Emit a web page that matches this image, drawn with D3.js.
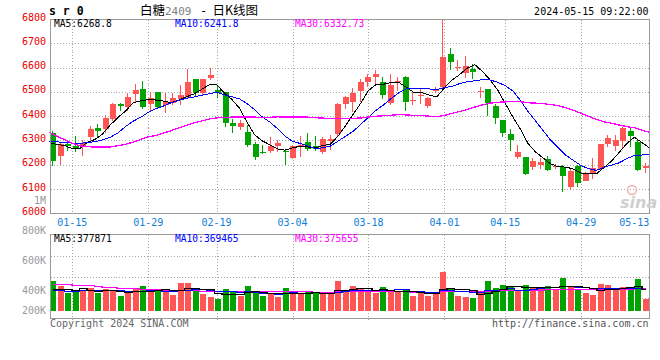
<!DOCTYPE html>
<html><head><meta charset="utf-8">
<script src="https://cdn.jsdelivr.net/npm/d3@7"></script>
<style>
body{margin:0;background:#fff;}
svg{display:block;}
text{font-family:"DejaVu Sans Mono","Liberation Mono",monospace;}
</style>
</head><body>
<svg id="chart" width="660" height="360"></svg>
<script>
// ---------------- DATA ----------------
const dates = ["01-10","01-11","01-12","01-15","01-16","01-17","01-18","01-19","01-22","01-23",
"01-24","01-25","01-26","01-29","01-30","01-31","02-01","02-02","02-05","02-06",
"02-07","02-08","02-19","02-20","02-21","02-22","02-23","02-26","02-27","02-28",
"02-29","03-01","03-04","03-05","03-06","03-07","03-08","03-11","03-12","03-13",
"03-14","03-15","03-18","03-19","03-20","03-21","03-22","03-25","03-26","03-27",
"03-28","03-29","04-01","04-02","04-03","04-08","04-09","04-10","04-11","04-12",
"04-15","04-16","04-17","04-18","04-19","04-22","04-23","04-24","04-25","04-26",
"04-29","04-30","05-06","05-07","05-08","05-09","05-10","05-13","05-14","05-15"];

const opens  = [6329,6234,6284,6279,6272,6315,6351,6346,6387,6449,6437,6491,6510,6452,6499,6446,6453,6471,6480,6551,
6496,6558,6507,6498,6370,6356,6335,6285,6253,6258,6277,6258,6228,6272,6293,6278,6252,6298,6325,6450,
6457,6503,6539,6562,6539,6453,6540,6561,6463,6481,6443,6503,6521,6655,6599,6576,6594,6500,6511,6442,
6384,6326,6230,6233,6192,6200,6223,6189,6189,6109,6195,6134,6160,6181,6285,6277,6299,6340,6295,6185];
const highs  = [6340,6288,6301,6320,6302,6359,6367,6404,6455,6455,6496,6531,6545,6500,6500,6497,6496,6528,6593,6551,
6551,6600,6530,6500,6390,6384,6363,6292,6281,6314,6302,6260,6280,6319,6329,6317,6315,6322,6456,6485,
6515,6553,6573,6590,6561,6573,6562,6566,6500,6511,6480,6521,6798,6679,6631,6647,6613,6521,6511,6451,
6386,6346,6281,6233,6226,6229,6236,6203,6199,6185,6199,6171,6229,6285,6322,6322,6354,6350,6305,6208];
const lows   = [6195,6199,6258,6253,6240,6302,6315,6334,6382,6422,6422,6458,6433,6425,6431,6414,6450,6450,6476,6484,
6490,6549,6478,6358,6332,6343,6277,6223,6245,6250,6253,6199,6224,6233,6258,6260,6247,6263,6315,6430,
6418,6459,6523,6535,6473,6449,6507,6425,6446,6453,6435,6498,6511,6593,6590,6558,6553,6476,6404,6369,
6315,6260,6226,6158,6182,6185,6175,6185,6089,6096,6112,6134,6144,6175,6274,6260,6267,6274,6175,6167];
const closes = [6217,6284,6277,6267,6290,6347,6340,6391,6450,6443,6480,6507,6436,6473,6436,6459,6474,6487,6541,6494,
6551,6569,6496,6370,6359,6373,6281,6233,6247,6278,6288,6254,6279,6283,6263,6264,6307,6306,6452,6479,
6496,6540,6561,6574,6487,6528,6544,6459,6467,6487,6474,6511,6644,6624,6603,6606,6583,6505,6453,6393,
6332,6301,6253,6160,6215,6210,6178,6195,6153,6175,6126,6167,6188,6285,6309,6302,6350,6319,6178,6196];
const volumes = [507000,421000,302000,341000,341000,387000,307000,370000,341000,251000,
307000,370000,421000,370000,329000,341000,268000,478000,478000,353000,
285000,234000,200000,370000,336000,251000,421000,307000,256000,302000,
234000,387000,302000,285000,336000,295000,302000,300000,507000,336000,
421000,363000,336000,307000,410000,324000,324000,353000,256000,336000,
256000,295000,666000,370000,256000,239000,222000,324000,507000,392000,
439000,421000,353000,439000,410000,363000,421000,353000,563000,421000,
353000,307000,268000,456000,439000,353000,410000,381000,541000,200000];

// moving-average values before enough bars exist on the chart
const ma5Lead  = [6290,6283,6279,6266];
const ma10Lead = [6296,6294,6292,6289,6288,6291,6295,6302,6313];
const ma30Lead = [6333,6317,6303,6288,6278,6274,6273,6273,6273,6278,6284,6293,6304,6315,6320,
                  6330,6340,6352,6362,6372,6380,6388,6393,6395,6396,6397,6397,6396,6395];
const vma5Lead  = [368000,366000,363000,360000];
const vma10Lead = [345000,345000,344000,344000,345000,347000,349000,352000,355000];
const vma30Lead = [456000,452000,449000,444000,435000,432000,421000,410000,401000,392000,387000,381000,
                   375000,370000,364000,358000,353000,350000,346000,345000,341000,340000,339000,338000,
                   337000,336000,336000,335000,334000];

const priceTicks = [6000,6100,6200,6300,6400,6500,6600,6700,6800];
const volTickValues = [1000000,800000,600000,400000,200000];
const volTickLabels = ["1M","800K","600K","400K","200K"];
const axisDates = ["01-15","01-29","02-19","03-04","03-18","04-01","04-15","04-29","05-13"];
const priceLegend = ["MA5:6268.8","MA10:6241.8","MA30:6332.73"];
const volLegend = ["MA5:377871","MA10:369465","MA30:375655"];
const titleParts = ["白糖","2409","-","日K线图"];
const stamp = "2024-05-15 09:22:00";

// ---------------- LAYOUT ----------------
const svg = d3.select("#chart");
const n = dates.length;
const L = 50.5, R = 649.5;
const pTop = 19.5, pBot = 213.5;
const vTop = 234.5, vBot = 318.5, vBase = 310.7;
const RED = "#ff5555", GREEN = "#00a300", GRID = "#a8a8a8", BORDER = "#9a9a9a";
const LINE_COLORS = ["#000000","#0000ff","#ff00ff"];

const xBand = d3.scaleBand().domain(d3.range(n)).range([49, 649]);
const xGrid = d3.scaleLinear().domain([0, n-1]).range([49.5, 649.5]);
const yP = d3.scaleLinear().domain([6000, 6800]).range([213.3, 19]);
const yV = d3.scaleLinear().domain([0, 1300000]).range([vBase, 234.5]);
const yVLabel = d3.scaleLinear().domain([0, 1000000]).range([350.5, 200.5]);

function movAvg(arr, k, lead) {
  return arr.map((v, i) => i < k - 1 ? lead[i] : d3.mean(arr.slice(i - k + 1, i + 1)));
}
const ma5 = movAvg(closes, 5, ma5Lead), ma10 = movAvg(closes, 10, ma10Lead), ma30 = movAvg(closes, 30, ma30Lead);
const vma5 = movAvg(volumes, 5, vma5Lead), vma10 = movAvg(volumes, 10, vma10Lead), vma30 = movAvg(volumes, 30, vma30Lead);

const gridIdx = axisDates.map(d => dates.indexOf(d));

// ---------------- GRID ----------------
const g = svg.append("g").attr("shape-rendering", "crispEdges");
g.selectAll(".hp").data(priceTicks.filter(t => t > 6000 && t < 6800)).enter().append("line")
  .attr("x1", L).attr("x2", R).attr("y1", d => Math.round(yP(d)) + 0.5).attr("y2", d => Math.round(yP(d)) + 0.5)
  .attr("stroke", GRID).attr("stroke-dasharray", "1,2");
const vGridY = d3.range(1, 4).map(k => vTop + (vBot - vTop) * k / 4);
g.selectAll(".hv").data(vGridY).enter().append("line")
  .attr("x1", L).attr("x2", R).attr("y1", d => Math.round(d) + 0.5).attr("y2", d => Math.round(d) + 0.5)
  .attr("stroke", GRID).attr("stroke-dasharray", "1,2");
gridIdx.slice(0, -1).forEach(i => {
  const x = Math.round(xGrid(i)) + 0.5;
  g.append("line").attr("x1", x).attr("x2", x).attr("y1", pTop).attr("y2", pBot)
    .attr("stroke", GRID).attr("stroke-dasharray", "1,2");
  g.append("line").attr("x1", x).attr("x2", x).attr("y1", vTop).attr("y2", vBot + 2)
    .attr("stroke", GRID).attr("stroke-dasharray", "1,2");
});

// ---------------- VOLUME BARS ----------------
const vb = svg.append("g").attr("shape-rendering", "crispEdges");
vb.selectAll("rect").data(volumes).enter().append("rect")
  .attr("x", (d, i) => Math.round(xBand(i)) + 1)
  .attr("width", 6)
  .attr("y", d => Math.round(yV(d)))
  .attr("height", d => Math.round(vBase) - Math.round(yV(d)))
  .attr("fill", (d, i) => closes[i] >= opens[i] ? RED : GREEN);

// ---------------- CANDLES ----------------
const cg = svg.append("g").attr("shape-rendering", "crispEdges");
d3.range(n).forEach(i => {
  const up = closes[i] >= opens[i];
  const col = up ? RED : GREEN;
  const x0 = Math.round(xBand(i)) + 1;
  const top = Math.round(yP(Math.max(opens[i], closes[i])));
  const bot = Math.round(yP(Math.min(opens[i], closes[i])));
  cg.append("line").attr("x1", x0 + 2.5).attr("x2", x0 + 2.5)
    .attr("y1", Math.max(yP(highs[i]), 19.5)).attr("y2", yP(lows[i]) + 0.5)
    .attr("stroke", col).attr("stroke-width", 1);
  cg.append("rect").attr("x", x0).attr("width", 6).attr("y", top)
    .attr("height", Math.max(1, bot - top)).attr("fill", col);
});

// ---------------- PRICE MA LINES ----------------
const pLine = d3.line().x((d, i) => xGrid(i)).y(d => yP(d));
[ma5, ma10, ma30].forEach((s, k) => {
  svg.append("path").attr("d", pLine(s)).attr("fill", "none")
    .attr("stroke", LINE_COLORS[k]).attr("stroke-width", k === 2 ? 1.3 : 1)
    .attr("shape-rendering", "crispEdges");
});

// ---------------- VOLUME MA LINES ----------------
const vLine = d3.line().curve(d3.curveStep).x((d, i) => Math.round(xBand(i)) + 4).y(d => Math.round(yV(d)) + 0.5);
[vma30, vma10, vma5].forEach((s, k) => {
  svg.append("path").attr("d", vLine(s)).attr("fill", "none")
    .attr("stroke", LINE_COLORS[2 - k]).attr("stroke-width", 1.3)
    .attr("shape-rendering", "crispEdges");
});

// ---------------- BORDERS ----------------
const bg = svg.append("g").attr("shape-rendering", "crispEdges").attr("fill", "none").attr("stroke", BORDER);
bg.append("rect").attr("x", L).attr("y", pTop).attr("width", R - L).attr("height", pBot - pTop);
bg.append("rect").attr("x", L).attr("y", vTop).attr("width", R - L).attr("height", vBot - vTop);

// ---------------- WATERMARK ----------------
svg.append("circle").attr("cx", 632).attr("cy", 190).attr("r", 4.5)
  .attr("fill", "none").attr("stroke", "#f3b0b0").attr("stroke-width", 1.5);
svg.append("text").attr("x", 620).attr("y", 208).text("sina")
  .style("font-family", "DejaVu Sans").style("font-style", "italic").style("font-weight", "bold")
  .style("font-size", "16px").attr("fill", "#cfcfcf");

// ---------------- AXIS LABELS ----------------
svg.selectAll(".pl").data(priceTicks).enter().append("text")
  .attr("x", 46).attr("y", d => yP(d) + 1.5).attr("text-anchor", "end")
  .style("font-size", "10px").attr("fill", "#e80000").text(d => d);
svg.selectAll(".vl").data(volTickValues).enter().append("text")
  .attr("x", 46).attr("y", d => Math.min(yVLabel(d), 310.5) + 3.5).attr("text-anchor", "end")
  .style("font-size", "10px").attr("fill", "#999").text((d, i) => volTickLabels[i]);
svg.selectAll(".xl").data(gridIdx).enter().append("text")
  .attr("x", d => xGrid(d)).attr("y", 225.5).attr("text-anchor", "middle")
  .style("font-size", "10px").attr("fill", "#1080d8").text((d, i) => axisDates[i]);

// ---------------- LEGENDS ----------------
const legX = [54, 175, 295];
priceLegend.forEach((t, k) => svg.append("text").attr("x", legX[k]).attr("y", 26.5)
  .style("font-size", "9.6px").attr("fill", LINE_COLORS[k]).text(t));
volLegend.forEach((t, k) => svg.append("text").attr("x", legX[k]).attr("y", 241.5)
  .style("font-size", "9.6px").attr("fill", LINE_COLORS[k]).text(t));

// ---------------- HEADER ----------------
svg.append("text").attr("x", 49).attr("y", 15).text("s r 0")
  .style("font-size", "11.5px").style("font-weight", "bold").style("white-space", "pre").attr("fill", "#000");
const titleX = [140, 165, 200, 212.5];
const titleFonts = ["'Noto Sans CJK SC'", "'DejaVu Sans Mono'", "'DejaVu Sans Mono'", "'Noto Sans CJK SC'"];
const titleSizes = ["12.5px", "11px", "12px", "12.5px"];
const titleFill = ["#000", "#808080", "#000", "#000"];
titleParts.forEach((t, k) => svg.append("text").attr("x", titleX[k]).attr("y", 15)
  .style("font-family", titleFonts[k]).style("font-size", titleSizes[k]).attr("fill", titleFill[k]).text(t));
svg.append("text").attr("x", 648.5).attr("y", 15).attr("text-anchor", "end")
  .style("font-size", "10px").attr("fill", "#000").text(stamp);

// ---------------- FOOTER ----------------
svg.append("text").attr("x", 50).attr("y", 326.5).style("font-size", "10px").attr("fill", "#666").text("Copyright 2024 SINA.COM");
svg.append("text").attr("x", 648.5).attr("y", 326.5).attr("text-anchor", "end").style("font-size", "10px").attr("fill", "#555").text("http://finance.sina.com.cn");
</script>
</body></html>
